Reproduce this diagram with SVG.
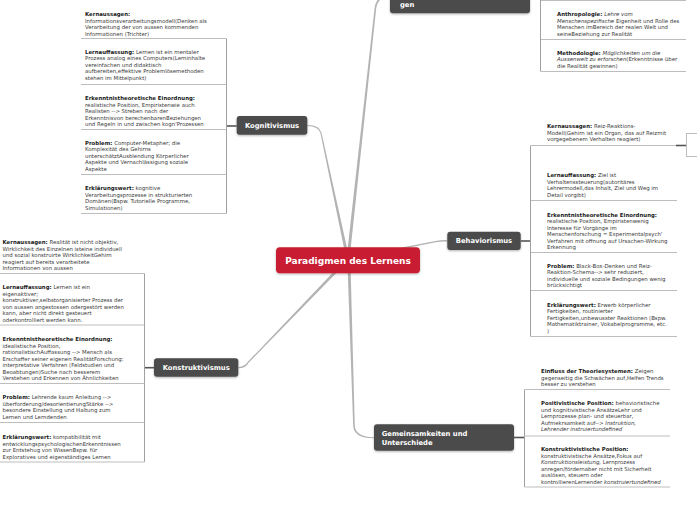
<svg xmlns="http://www.w3.org/2000/svg" width="697" height="520" viewBox="0 0 697 520">
<defs>
<style>
.t{font-family:"DejaVu Sans",Verdana,sans-serif;font-size:5.4px;fill:#3a3a3a}
.b{font-weight:bold;fill:#1a1a1a}
.i{font-style:italic}
.ul{stroke:#bdbdbd;stroke-width:1;fill:none}
.br{stroke:#a0a0a0;stroke-width:1;fill:none}
.lk{stroke:#555;stroke-width:1.6;fill:none}
.node{fill:#4b4b4b}
.nt{font-family:"DejaVu Sans",Verdana,sans-serif;font-weight:bold;font-size:6.8px;fill:#fff}
.ct{font-family:"DejaVu Sans",Verdana,sans-serif;font-weight:bold;font-size:9px;fill:#fff}
.conn{fill:#b3b3b3}
.connl{stroke:#b3b3b3;stroke-width:1.3;fill:none}
</style>
<filter id="sh" x="-10%" y="-20%" width="120%" height="160%">
<feDropShadow dx="0" dy="1" stdDeviation="0.8" flood-color="#000" flood-opacity="0.3"/>
</filter>
</defs>
<rect width="697" height="520" fill="#fff"/>

<g id="connectors">
<path class="conn" d="M345.5,255.3 L320.4,133.1 Q318.5,126.3 307.3,126 L307.3,125 Q319.5,124.8 321.6,132.9 L348.5,254.7 Z"/>
<path class="conn" d="M347.5,250 L374.6,8 Q376.5,-6 392,-7 L392,-5.5 Q378.5,-4.5 376.2,8.3 L350.5,250 Z"/>
<path class="connl" d="M398,249 L437,241.3 Q441,240.6 447.5,240.8"/>
<path class="conn" d="M343.9,261 L247.6,362.1 Q245,366.7 238.3,367.2 L238.3,368.2 Q246,368.2 248.4,362.9 L346.1,263 Z"/>
<path class="conn" d="M347.5,265 L353.2,426 Q354,438.5 374,438.3 L374,437.2 Q356,437 354.8,426 L350.5,265 Z"/>
</g>

<g id="top-node">
<rect class="node" x="390" y="-22" width="140" height="35.3" rx="3" filter="url(#sh)"/>
<text class="nt" x="400" y="6.8">gen</text>
</g>

<g id="top-children">
<line class="br" x1="540.5" y1="0" x2="540.5" y2="71.5"/>
<line class="ul" x1="541" y1="0.5" x2="686" y2="0.5"/>
<line class="ul" x1="541" y1="39.5" x2="686" y2="39.5"/>
<line class="ul" x1="541" y1="71.5" x2="686" y2="71.5"/>
<text class="t">
<tspan x="557" y="16"><tspan class="b">Anthropologie:</tspan> <tspan class="i">Lehre vom</tspan></tspan>
<tspan x="557" y="22.5"><tspan class="i">Menschenspezifische</tspan> Eigenheit und Rolle des</tspan>
<tspan x="557" y="29">Menschen imBereich der realen Welt und</tspan>
<tspan x="557" y="35.5">seineBeziehung zur Realität</tspan>
</text>
<text class="t">
<tspan x="557" y="54.7"><tspan class="b">Methodologie:</tspan> <tspan class="i">Möglichkeiten um die</tspan></tspan>
<tspan x="557" y="61.2"><tspan class="i">Aussenwelt zu erforschen</tspan>(Erkenntnisse über</tspan>
<tspan x="557" y="67.7">die Realität gewinnen)</tspan>
</text>
</g>

<g id="kognitivismus">
<rect class="node" x="236.7" y="116" width="70.6" height="18.7" rx="3" filter="url(#sh)"/>
<text class="nt" x="272" y="127.8" text-anchor="middle">Kognitivismus</text>
</g>
<g id="kognitivismus-children">
<line class="lk" x1="226.5" y1="126" x2="236.7" y2="126"/>
<line class="br" x1="226.5" y1="38.5" x2="226.5" y2="213.5"/>
<line class="ul" x1="81" y1="38.5" x2="226.5" y2="38.5"/>
<line class="ul" x1="81" y1="84.5" x2="226.5" y2="84.5"/>
<line class="ul" x1="81" y1="129.5" x2="226.5" y2="129.5"/>
<line class="ul" x1="81" y1="174.5" x2="226.5" y2="174.5"/>
<line class="ul" x1="81" y1="213.5" x2="226.5" y2="213.5"/>
<text class="t">
<tspan x="85" y="16" class="b">Kernaussagen:</tspan>
<tspan x="85" y="22.5">Informationsverarbeitungsmodell(Denken als</tspan>
<tspan x="85" y="29">Verarbeitung der von aussen kommenden</tspan>
<tspan x="85" y="35.5">Informationen (Trichter)</tspan>
</text>
<text class="t">
<tspan x="85" y="53.7"><tspan class="b">Lernauffassung:</tspan> Lernen ist ein mentaler</tspan>
<tspan x="85" y="60.2">Prozess analog eines Computers(Lerninhalte</tspan>
<tspan x="85" y="66.7">vereinfachen und didaktisch</tspan>
<tspan x="85" y="73.2">aufbereiten,effektive Problemlösemethoden</tspan>
<tspan x="85" y="79.7">stehen im Mittelpunkt)</tspan>
</text>
<text class="t">
<tspan x="85" y="100" class="b">Erkenntnistheoretische Einordnung:</tspan>
<tspan x="85" y="106.5">realistische Position, Empiristenwie auch</tspan>
<tspan x="85" y="113">Realisten --&gt; Streben nach der</tspan>
<tspan x="85" y="119.5">Erkenntnisvon berechenbarenBeziehungen</tspan>
<tspan x="85" y="126">und Regeln in und zwischen kogn'Prozessen</tspan>
</text>
<text class="t">
<tspan x="85" y="144.7"><tspan class="b">Problem:</tspan>  Computer-Metapher; die</tspan>
<tspan x="85" y="151.2">Komplexität des Gehirns</tspan>
<tspan x="85" y="157.7">unterschätztAusblendung Körperlicher</tspan>
<tspan x="85" y="164.2">Aspekte und Vernachlässigung soziale</tspan>
<tspan x="85" y="170.7">Aspekte</tspan>
</text>
<text class="t">
<tspan x="85" y="190.3"><tspan class="b">Erklärungswert:</tspan> kognitive</tspan>
<tspan x="85" y="196.8">Verarbeitungsprozesse in strukturierten</tspan>
<tspan x="85" y="203.3">Domänen(Bspw. Tutorielle Programme,</tspan>
<tspan x="85" y="209.8">Simulationen)</tspan>
</text>
</g>

<g id="behaviorismus">
<rect class="node" x="447.3" y="231.7" width="73.4" height="18.3" rx="3" filter="url(#sh)"/>
<text class="nt" x="484" y="243.3" text-anchor="middle">Behaviorismus</text>
</g>
<g id="behaviorismus-children">
<line class="lk" x1="520.7" y1="241" x2="530.5" y2="241"/>
<line class="br" x1="530.5" y1="145.5" x2="530.5" y2="336.5"/>
<line class="ul" x1="531" y1="145.5" x2="686.5" y2="145.5"/>
<line class="lk" x1="676" y1="145.5" x2="686.5" y2="145.5" stroke-width="1.2"/>
<line class="ul" x1="686.5" y1="133" x2="686.5" y2="157"/>
<line class="ul" x1="686.5" y1="133.5" x2="697" y2="133.5"/>
<line class="ul" x1="686.5" y1="156.5" x2="697" y2="156.5"/>
<line class="ul" x1="531" y1="200.5" x2="677" y2="200.5"/>
<line class="ul" x1="531" y1="252.5" x2="677" y2="252.5"/>
<line class="ul" x1="531" y1="290.5" x2="677" y2="290.5"/>
<line class="ul" x1="531" y1="336.5" x2="677" y2="336.5"/>
<text class="t">
<tspan x="547" y="128"><tspan class="b">Kernaussagen:</tspan> Reiz-Reaktions-</tspan>
<tspan x="547" y="134.5">Modell(Gehirn ist ein Organ, das auf Reizmit</tspan>
<tspan x="547" y="141">vorgegebenem Verhalten reagiert)</tspan>
</text>
<text class="t">
<tspan x="547" y="177"><tspan class="b">Lernauffassung:</tspan>  Ziel ist</tspan>
<tspan x="547" y="183.5">Verhaltenssteuerung(autoritäres</tspan>
<tspan x="547" y="190">Lehrermodell,das Inhalt, Ziel und Weg im</tspan>
<tspan x="547" y="196.5">Detail vorgibt)</tspan>
</text>
<text class="t">
<tspan x="547" y="216.7" class="b">Erkenntnistheoretische Einordnung:</tspan>
<tspan x="547" y="223.2">realistische Position, Empiristenwenig</tspan>
<tspan x="547" y="229.7">Interesse für Vorgänge im</tspan>
<tspan x="547" y="236.2">Menschenforschung = Experimentalpsych'</tspan>
<tspan x="547" y="242.7">Verfahren mit offnung auf Ursachen-Wirkung</tspan>
<tspan x="547" y="249.2">Erkennung</tspan>
</text>
<text class="t">
<tspan x="547" y="267.7"><tspan class="b">Problem:</tspan> Black-Box-Denken und Reiz-</tspan>
<tspan x="547" y="274.2">Reaktion-Schema--&gt; sehr reduziert,</tspan>
<tspan x="547" y="280.7">individuelle und soziale Bedingungen wenig</tspan>
<tspan x="547" y="287.2">brücksichtigt</tspan>
</text>
<text class="t">
<tspan x="547" y="306.7"><tspan class="b">Erklärungswert:</tspan> Erwerb körperlicher</tspan>
<tspan x="547" y="313.2">Fertigkeiten, routinierter</tspan>
<tspan x="547" y="319.7">Fertigkeiten,unbewusster Reaktionen (Bspw.</tspan>
<tspan x="547" y="326.2">Mathematiktrainer, Vokabelprogramme, etc.</tspan>
<tspan x="547" y="332.7">)</tspan>
</text>
</g>

<g id="konstruktivismus">
<rect class="node" x="154" y="358.3" width="84.3" height="18.4" rx="3" filter="url(#sh)"/>
<text class="nt" x="196.2" y="370" text-anchor="middle">Konstruktivismus</text>
</g>
<g id="konstruktivismus-children">
<line class="lk" x1="144.5" y1="367.7" x2="154" y2="367.7"/>
<line class="br" x1="144.5" y1="273.5" x2="144.5" y2="462"/>
<line class="ul" x1="0" y1="273.5" x2="144.5" y2="273.5"/>
<line class="ul" x1="0" y1="325" x2="144.5" y2="325"/>
<line class="ul" x1="0" y1="383.5" x2="144.5" y2="383.5"/>
<line class="ul" x1="0" y1="422.5" x2="144.5" y2="422.5"/>
<line class="ul" x1="0" y1="462" x2="144.5" y2="462"/>
<text class="t">
<tspan x="2.5" y="244"><tspan class="b">Kernaussagen:</tspan> Realität ist nicht objektiv,</tspan>
<tspan x="2.5" y="250.5">Wirklichkeit des Einzelnen isteine individuell</tspan>
<tspan x="2.5" y="257">und sozial konstruirte WirklichkeitGehirn</tspan>
<tspan x="2.5" y="263.5">reagiert auf bereits verarbeitete</tspan>
<tspan x="2.5" y="270">Informationen von aussen</tspan>
</text>
<text class="t">
<tspan x="2.5" y="289"><tspan class="b">Lernauffassung:</tspan> Lernen ist ein</tspan>
<tspan x="2.5" y="295.5">eigenaktiver;</tspan>
<tspan x="2.5" y="302">konstruktiver,selbstorganisierter Prozess der</tspan>
<tspan x="2.5" y="308.5">von aussen angestossen odergestört werden</tspan>
<tspan x="2.5" y="315">kann, aber nicht direkt gesteuert</tspan>
<tspan x="2.5" y="321.5">oderkontrolliert werden kann.</tspan>
</text>
<text class="t">
<tspan x="2.5" y="341" class="b">Erkenntnistheoretische Einordnung:</tspan>
<tspan x="2.5" y="347.5">idealistische Position,</tspan>
<tspan x="2.5" y="354">rationalistischAuffassung --&gt; Mensch als</tspan>
<tspan x="2.5" y="360.5">Erschaffer seiner eigenen RealitätForschung:</tspan>
<tspan x="2.5" y="367">interpretative Verfahren (Feldstudien und</tspan>
<tspan x="2.5" y="373.5">Beoabtungen)Suche nach besserem</tspan>
<tspan x="2.5" y="380">Verstehen und Erkennen von Ähnlichkeiten</tspan>
</text>
<text class="t">
<tspan x="2.5" y="399"><tspan class="b">Problem:</tspan>  Lehrende kaum Anleitung --&gt;</tspan>
<tspan x="2.5" y="405.5">überforderung/desorientierungStärke --&gt;</tspan>
<tspan x="2.5" y="412">besondere Einstellung und Haltung zum</tspan>
<tspan x="2.5" y="418.5">Lernen und Lerndenden</tspan>
</text>
<text class="t">
<tspan x="2.5" y="439.3"><tspan class="b">Erklärungswert:</tspan> kompatibilität mit</tspan>
<tspan x="2.5" y="445.8">entwicklungspsychologischenErkenntnissen</tspan>
<tspan x="2.5" y="452.3">zur Entstehug von WissenBspw. für</tspan>
<tspan x="2.5" y="458.8">Exploratives und eigenständiges Lernen</tspan>
</text>
</g>

<g id="gemeinsamkeiten">
<rect class="node" x="374" y="424.3" width="140" height="26.4" rx="3" filter="url(#sh)"/>
<text class="nt">
<tspan x="381.7" y="436.3">Gemeinsamkeiten und</tspan>
<tspan x="381.7" y="444.8">Unterschiede</tspan>
</text>
</g>
<g id="gemeinsamkeiten-children">
<line class="lk" x1="514" y1="437.5" x2="524.5" y2="437.5"/>
<line class="br" x1="524.5" y1="389.5" x2="524.5" y2="487"/>
<line class="ul" x1="524.5" y1="389.5" x2="670" y2="389.5"/>
<line class="ul" x1="524.5" y1="436" x2="670" y2="436"/>
<line class="ul" x1="524.5" y1="487" x2="670" y2="487"/>
<text class="t">
<tspan x="541" y="373"><tspan class="b">Einfluss der Theoriesystemen:</tspan> Zeigen</tspan>
<tspan x="541" y="379.5">gegenseitig die Schwächen auf,Helfen Trends</tspan>
<tspan x="541" y="386">besser zu verstehen</tspan>
</text>
<text class="t">
<tspan x="541" y="405.3"><tspan class="b">Positivistische Position:</tspan> behavioristische</tspan>
<tspan x="541" y="411.8">und kognitivistische AnsätzeLehr und</tspan>
<tspan x="541" y="418.3">Lernprozesse plan- und steuerbar,</tspan>
<tspan x="541" y="424.8">Aufmekrsamkeit auf--&gt; <tspan class="i">Instruktion,</tspan></tspan>
<tspan x="541" y="431.3" class="i">Lehrender instruiertundefined</tspan>
</text>
<text class="t">
<tspan x="541" y="451.3" class="b">Konstruktivistische Position:</tspan>
<tspan x="541" y="457.8">konstruktivistische Ansätze,Fokus auf</tspan>
<tspan x="541" y="464.3"><tspan class="i">Konstruktionsleistung,</tspan> Lernprozess</tspan>
<tspan x="541" y="470.8">anregen/fördernaber nicht mit Sicherheit</tspan>
<tspan x="541" y="477.3">auslösen, steuern oder</tspan>
<tspan x="541" y="483.8">kontrollierenLernender <tspan class="i">konstruiertundefined</tspan></tspan>
</text>
</g>

<g id="center">
<rect x="276" y="247.3" width="144" height="26" rx="4" fill="#c81f30" filter="url(#sh)"/>
<text class="ct" x="348" y="263.6" text-anchor="middle">Paradigmen des Lernens</text>
</g>
</svg>
